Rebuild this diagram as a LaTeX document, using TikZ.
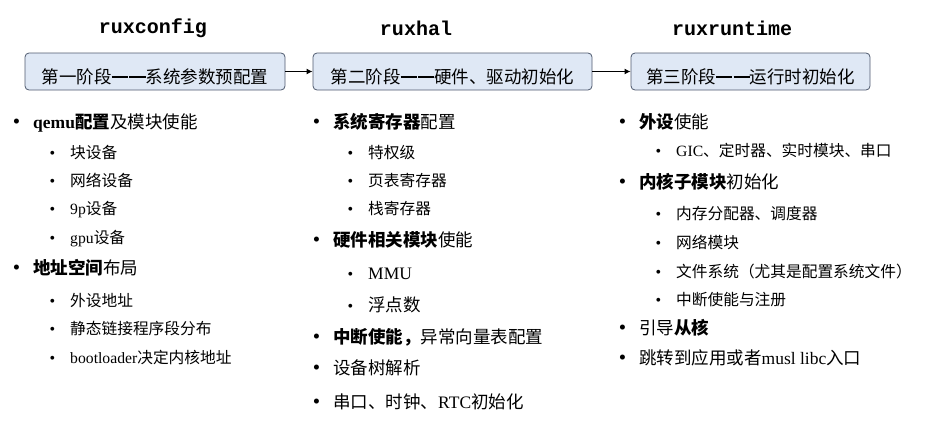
\documentclass[tikz,border=0pt]{standalone}
\usepackage{fontspec}
\setmainfont{Noto Sans CJK SC}
\newfontfamily\lat{Liberation Serif}
\newfontfamily\monob{Liberation Mono Bold}
\usetikzlibrary{arrows.meta}
\definecolor{boxfill}{HTML}{DFE8F5}
\definecolor{boxline}{HTML}{4F5A6E}
\newcommand{\mb}{\llap{{\lat\fontsize{21}{22}\selectfont •}\hspace{13pt}}}
\newcommand{\sbul}{\llap{{\lat\fontsize{16}{18}\selectfont •}\hspace{15pt}}}
\newcommand{\ddash}{\rule[0.27em]{0.92em}{0.13em}\hspace{0.08em}\rule[0.27em]{0.92em}{0.13em}}
\tikzset{
  stage/.style={draw=boxline, fill=boxfill, rounded corners=4pt, line width=0.8pt,
    minimum height=37pt, inner sep=0pt, font=\fontsize{17.5}{20}\selectfont},
  stagetext/.style={inner sep=0pt, font=\fontsize{17.5}{20}\selectfont},
  title/.style={font=\monob\fontsize{20}{22}\selectfont, inner sep=0pt},
  mainitem/.style={anchor=base west, inner sep=0pt, font=\fontsize{17.5}{20}\selectfont},
  subitem/.style={anchor=base west, inner sep=0pt, font=\fontsize{15.7}{18}\selectfont},
  flow/.style={-{Latex[length=6pt,width=6pt]}, line width=1.8pt}
}
\begin{document}
\begin{tikzpicture}[x=1pt,y=-1pt]
\useasboundingbox (0,0) rectangle (928,426);
% titles
\node[title] (t1) at (153,28) {ruxconfig};
\node[title] (t2) at (416,28) {ruxhal};
\node[title] (t3) at (732,28) {ruxruntime};
% stage boxes
\node[stage, minimum width=260pt] (s1) at (155,71.5) {};
\node[stage, minimum width=279pt] (s2) at (452.5,71.5) {};
\node[stage, minimum width=239pt] (s3) at (750.5,71.5) {};
\node[stagetext, anchor=base] (s1t) at (155,83) {第一阶段\ddash 系统参数预配置};
\node[stagetext, anchor=base] (s2t) at (452.5,83) {第二阶段\ddash 硬件、驱动初始化};
\node[stagetext, anchor=base] (s3t) at (750.5,83) {第三阶段\ddash 运行时初始化};
\draw[flow] (s1) -- (s2);
\draw[flow] (s2) -- (s3);
% left column
\node[mainitem] (l1) at (33,128.5) {\mb\textbf{{\lat qemu}配置}及模块使能};
\node[subitem] (l2) at (70,158) {\sbul 块设备};
\node[subitem] (l3) at (70,186) {\sbul 网络设备};
\node[subitem] (l4) at (70,214) {\sbul {\lat 9p}设备};
\node[subitem] (l5) at (70,243) {\sbul {\lat gpu}设备};
\node[mainitem] (l6) at (33,274.5) {\mb\textbf{地址空间}布局};
\node[subitem] (l7) at (70,306) {\sbul 外设地址};
\node[subitem] (l8) at (70,334) {\sbul 静态链接程序段分布};
\node[subitem] (l9) at (70,363) {\sbul {\lat bootloader}决定内核地址};
% middle column
\node[mainitem] (m1) at (333,128.5) {\mb\textbf{系统寄存器}配置};
\node[subitem] (m2) at (368,158) {\sbul 特权级};
\node[subitem] (m3) at (368,186) {\sbul 页表寄存器};
\node[subitem] (m4) at (368,214) {\sbul 栈寄存器};
\node[mainitem] (m5) at (333,246.5) {\mb\textbf{硬件相关模块}使能};
\node[mainitem] (m6) at (368,279.5) {\sbul{\lat MMU}};
\node[mainitem] (m7) at (368,311.5) {\sbul 浮点数};
\node[mainitem] (m8) at (333,343.5) {\mb\textbf{中断使能，}异常向量表配置};
\node[mainitem] (m9) at (333,374.5) {\mb 设备树解析};
\node[mainitem] (m10) at (333,408.5) {\mb 串口、时钟、{\lat RTC}初始化};
% right column
\node[mainitem] (r1) at (639,128.5) {\mb\textbf{外设}使能};
\node[subitem] (r2) at (676,156) {\sbul {\lat GIC}、定时器、实时模块、串口};
\node[mainitem] (r3) at (639,188.5) {\mb\textbf{内核子模块}初始化};
\node[subitem] (r4) at (676,219) {\sbul 内存分配器、调度器};
\node[subitem] (r5) at (676,248) {\sbul 网络模块};
\node[subitem] (r6) at (676,277) {\sbul 文件系统（尤其是配置系统文件）};
\node[subitem] (r7) at (676,305) {\sbul 中断使能与注册};
\node[mainitem] (r8) at (639,334.5) {\mb 引导\textbf{从核}};
\node[mainitem] (r9) at (639,364.5) {\mb 跳转到应用或者{\lat musl libc}入口};
\end{tikzpicture}
\end{document}
